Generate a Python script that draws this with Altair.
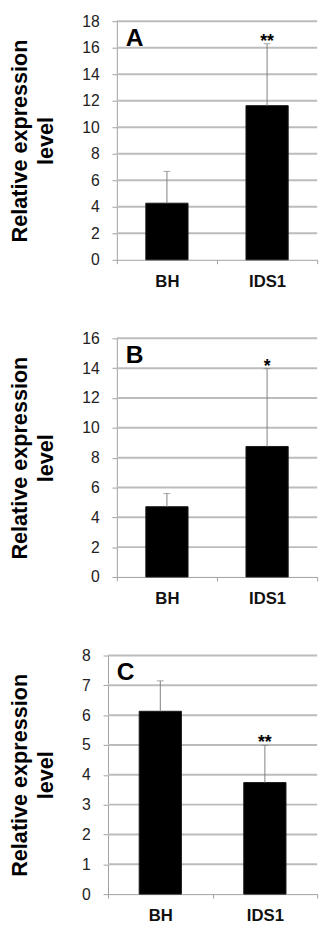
import altair as alt
import pandas as pd

# ---- data ----
categories = ["BH", "IDS1"]

a_values = [4.27, 11.63]
a_err_top = [6.67, 16.3]
a_stars = ["", "**"]

b_values = [4.71, 8.75]
b_err_top = [5.59, 13.97]
b_stars = ["", "*"]

c_values = [6.13, 3.74]
c_err_top = [7.15, 4.99]
c_stars = ["", "**"]

panel_letters = ["A", "B", "C"]
y_max = [18, 16, 8]
y_step = [2, 2, 1]

FONT = "Liberation Sans"
PLOT_W = 204


def panel(letter, values, err_top, stars, ymax, step, height, shift):
    df = pd.DataFrame({"cat": categories, "val": values, "err": err_top, "star": stars})
    ticks = list(range(0, ymax + 1, step))
    base = alt.Chart(df)
    xaxis = alt.Axis(
        title=None,
        labelAngle=0,
        labelFont=FONT,
        labelFontSize=17,
        labelFontWeight="bold",
        labelColor="#111111",
        labelPadding=10,
        tickBand="extent",
        tickSize=4,
        tickColor="#a0a0a0",
        domainColor="#a0a0a0",
        grid=False,
    )
    xscale = alt.Scale(paddingInner=0, paddingOuter=0, range=[-shift, PLOT_W])
    yscale = alt.Scale(domain=[0, ymax], nice=False)
    yaxis = alt.Axis(
        title=["Relative expression", "level"],
        values=ticks,
        labelOverlap=False,
        grid=False,
        offset=shift,
    )

    def X():
        return alt.X("cat:N", sort=categories, scale=xscale, axis=xaxis)

    grid = alt.Chart(pd.DataFrame({"t": ticks[1:]})).mark_rule(
        color="#bcbcbc", strokeWidth=2
    ).encode(
        y=alt.Y("t:Q", scale=yscale, axis=yaxis),
        x=alt.value(-shift),
        x2=alt.value(PLOT_W),
    )
    bars = base.mark_bar(size=43, color="#000000", stroke="#1a1a1a").encode(
        x=X(), y=alt.Y("val:Q", scale=yscale, axis=yaxis)
    )
    rule = base.mark_rule(color="#808080", strokeWidth=1).encode(
        x=X(), y=alt.Y("val:Q", scale=yscale, axis=yaxis), y2="err:Q"
    )
    cap = base.mark_tick(color="#808080", size=7, thickness=1).encode(
        x=X(), y=alt.Y("err:Q", scale=yscale, axis=yaxis)
    )
    star = base.mark_text(
        font=FONT, fontSize=18, fontWeight="bold", color="#000000",
        baseline="alphabetic", dy=3
    ).encode(x=X(), y=alt.Y("err:Q", scale=yscale, axis=yaxis), text="star:N")
    lab = alt.Chart(pd.DataFrame({"letter": [letter]})).mark_text(
        font=FONT, fontSize=25, fontWeight="bold", color="#000000",
        align="left", baseline="alphabetic",
    ).encode(text="letter:N", x=alt.value(9 - shift), y=alt.value(25))
    return alt.layer(grid, bars, rule, cap, star, lab).properties(
        width=PLOT_W, height=height
    )


pa = panel(panel_letters[0], a_values, a_err_top, a_stars, y_max[0], y_step[0], 243, 0)
pb = panel(panel_letters[1], b_values, b_err_top, b_stars, y_max[1], y_step[1], 243, 0)
pc = panel(panel_letters[2], c_values, c_err_top, c_stars, y_max[2], y_step[2], 243, 9)

chart = (
    alt.vconcat(pa, pb, pc, spacing=42, bounds="full")
    .configure(padding={"left": 9, "top": 5, "right": 0, "bottom": 0})
    .configure_view(stroke=None)
    .configure_axisY(
        labelOverlap=False,
        titleFont=FONT,
        titleFontSize=22,
        titleFontWeight="bold",
        titleColor="#000000",
        titleLineHeight=26,
        titlePadding=25,
        labelFont=FONT,
        labelFontSize=16,
        labelColor="#222222",
        labelPadding=13,
        tickSize=5,
        tickColor="#a0a0a0",
        domainColor="#a0a0a0",
    )
)

chart.save("out.html", embed_options={"renderer": "svg", "actions": False})
